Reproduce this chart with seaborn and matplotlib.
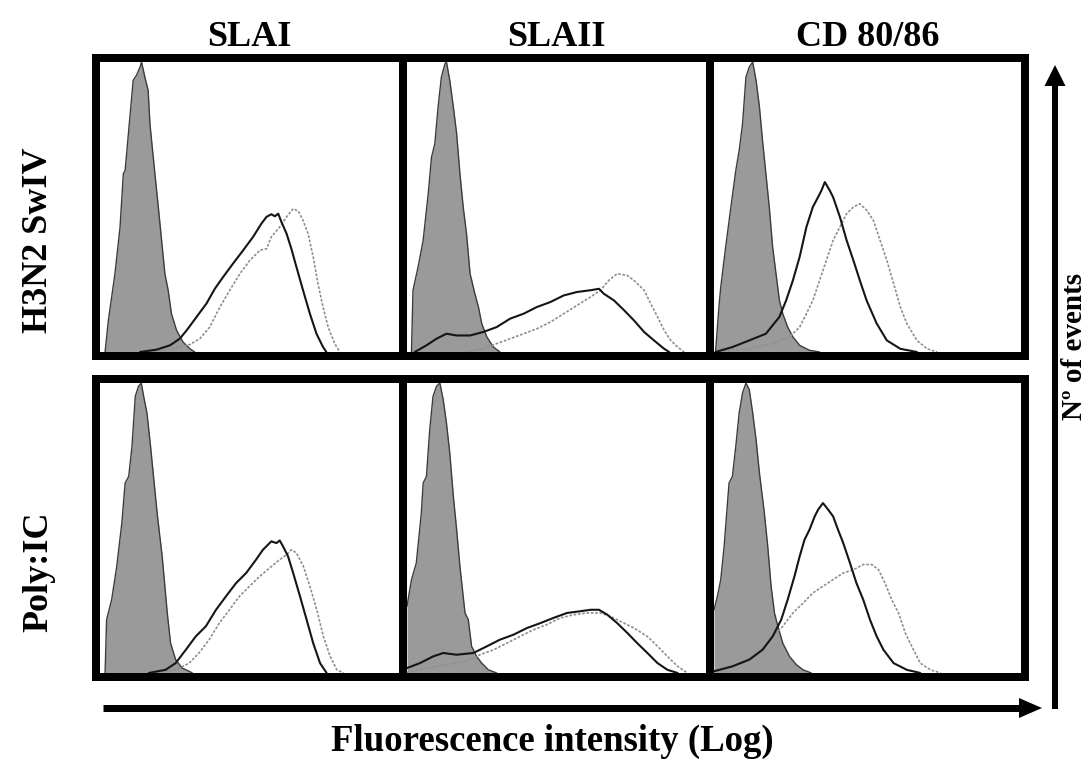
import matplotlib
matplotlib.use("Agg")
import matplotlib.pyplot as plt
import seaborn as sns
from matplotlib.patches import Polygon

# ---------------- data (x: % of log-fluorescence range, y: % of max events) -------------
COLUMNS = ["SLAI", "SLAII", "CD 80/86"]
ROWS = ["H3N2 SwIV", "Poly:IC"]

# Row 1: H3N2 SwIV
SLAI_SW_ISO_X = [1.7, 2.8, 5.0, 6.7, 7.8, 8.4, 9.5, 11.1, 12.2, 13.4, 13.9, 15.0, 16.1, 16.7, 17.8, 19.5, 20.6, 21.7, 22.8, 23.9, 25.6, 27.8, 30.1, 31.7]
SLAI_SW_ISO_Y = [0, 10.9, 27.0, 43.0, 61.5, 62.6, 75.3, 93.7, 95.4, 98.3, 100, 94.8, 90.2, 78.7, 67.2, 50.0, 38.5, 27.0, 21.3, 13.2, 7.5, 3.4, 1.1, 0]
SLAI_SW_A_X = [13.4, 18.9, 23.4, 26.7, 29.0, 32.3, 35.6, 38.4, 41.2, 44.5, 47.9, 51.2, 54.0, 55.7, 57.3, 58.5, 59.6, 60.7, 62.4, 64.0, 65.7, 67.9, 70.2, 72.4, 74.6, 75.7]
SLAI_SW_A_Y = [0, 0.8, 2.3, 4.6, 7.5, 12.1, 16.7, 21.8, 25.9, 30.5, 35.1, 39.7, 44.3, 46.6, 47.5, 46.8, 47.7, 44.8, 40.8, 35.6, 29.3, 21.3, 13.2, 6.3, 1.7, 0]
SLAI_SW_B_X = [16.7, 24.5, 30.1, 33.4, 36.7, 40.1, 43.4, 46.8, 50.1, 53.5, 55.7, 57.3, 60.1, 62.4, 64.6, 66.3, 67.9, 69.6, 71.3, 72.9, 74.6, 76.3, 78.5, 80.2]
SLAI_SW_B_Y = [0, 1.1, 2.6, 4.6, 8.6, 15.5, 21.3, 27.0, 31.6, 35.1, 35.6, 39.7, 43.1, 46.6, 49.4, 48.6, 45.4, 40.8, 32.8, 23.6, 15.5, 8.6, 2.9, 0]

SLAII_SW_ISO_X = [1.5, 2.0, 3.7, 5.4, 7.1, 8.2, 9.3, 10.4, 11.5, 12.7, 13.2, 14.3, 15.5, 16.6, 17.7, 18.8, 19.9, 21.1, 22.7, 23.9, 25.0, 26.7, 28.9, 31.1]
SLAII_SW_ISO_Y = [0, 21.3, 29.3, 38.5, 54.6, 67.2, 71.8, 84.5, 94.8, 99.4, 100, 93.7, 84.5, 75.3, 61.5, 50.0, 40.8, 27.0, 20.1, 15.5, 9.8, 5.2, 1.7, 0]
SLAII_SW_A_X = [2.6, 6.5, 9.9, 13.2, 16.6, 21.1, 25.5, 30.0, 34.5, 39.0, 43.4, 47.9, 52.4, 56.9, 61.4, 64.2, 65.8, 69.2, 72.6, 75.9, 79.3, 82.6, 86.0, 87.7]
SLAII_SW_A_Y = [0, 2.3, 4.6, 6.3, 5.7, 5.7, 6.9, 8.6, 11.5, 13.2, 15.5, 17.2, 19.5, 20.7, 21.3, 21.8, 20.1, 17.8, 14.4, 10.9, 6.9, 4.0, 1.1, 0]
SLAII_SW_B_X = [19.9, 25.5, 30.0, 34.5, 39.0, 43.4, 47.9, 52.4, 56.9, 61.4, 64.7, 67.5, 70.3, 73.7, 75.9, 79.3, 81.5, 83.8, 86.0, 88.2, 90.5, 92.7]
SLAII_SW_B_Y = [0, 1.1, 2.9, 4.6, 6.3, 8.0, 10.3, 13.2, 16.1, 19.0, 21.3, 24.7, 27.0, 26.4, 24.7, 21.3, 16.7, 12.1, 7.5, 4.0, 1.7, 0]

CD_SW_ISO_X = [0.5, 1.6, 2.2, 3.8, 5.5, 7.1, 8.2, 9.3, 10.4, 11.5, 12.6, 13.7, 14.8, 15.8, 16.9, 18.0, 19.1, 20.2, 21.3, 22.4, 24.0, 25.7, 27.9, 31.1, 34.4]
CD_SW_ISO_Y = [0, 15.5, 22.4, 36.2, 50.0, 62.6, 69.5, 78.7, 94.8, 98.3, 100, 93.7, 84.5, 73.0, 61.5, 50.0, 36.2, 27.0, 17.8, 13.2, 8.6, 5.2, 2.3, 0.6, 0]
CD_SW_A_X = [0.5, 6.0, 11.5, 16.9, 21.3, 23.5, 25.7, 27.9, 30.1, 32.2, 33.9, 35.0, 36.1, 37.7, 38.8, 41.0, 43.2, 45.4, 47.5, 49.7, 53.0, 56.3, 60.7, 66.1]
CD_SW_A_Y = [0, 1.7, 4.0, 6.3, 12.1, 17.8, 24.7, 32.8, 43.1, 50.0, 53.4, 55.7, 58.6, 55.7, 53.4, 46.6, 38.5, 31.6, 24.7, 17.8, 9.8, 4.0, 1.1, 0]
CD_SW_B_X = [1.6, 11.5, 19.1, 24.6, 27.9, 30.1, 32.2, 34.4, 36.6, 38.8, 41.0, 43.2, 45.4, 47.5, 49.7, 51.9, 54.1, 56.3, 58.5, 60.7, 62.8, 66.1, 69.4, 72.7]
CD_SW_B_Y = [0, 1.1, 2.9, 5.2, 8.6, 13.2, 17.8, 24.7, 31.6, 38.5, 43.1, 47.7, 50.0, 51.1, 48.9, 45.4, 38.5, 31.6, 23.6, 15.5, 9.8, 4.0, 1.1, 0]

# Row 2: Poly:IC
SLAI_PIC_ISO_X = [1.7, 2.2, 3.9, 5.6, 7.3, 8.4, 9.6, 10.7, 11.8, 12.9, 13.8, 14.6, 15.7, 16.9, 18.0, 19.1, 20.8, 22.5, 23.6, 25.3, 27.5, 29.8, 30.9]
SLAI_PIC_ISO_Y = [0, 18.4, 25.3, 36.8, 51.7, 65.5, 67.8, 78.2, 95.4, 98.9, 100, 95.4, 89.7, 78.2, 66.7, 55.2, 40.2, 20.7, 10.3, 4.6, 1.7, 0.6, 0]
SLAI_PIC_A_X = [16.3, 21.9, 25.3, 28.7, 32.0, 35.4, 38.8, 42.1, 45.5, 48.9, 52.2, 54.5, 57.3, 59.0, 60.1, 61.2, 62.9, 64.6, 66.9, 69.1, 71.3, 73.6, 75.8]
SLAI_PIC_A_Y = [0, 1.1, 3.4, 8.0, 12.6, 16.1, 21.8, 26.4, 31.0, 34.5, 39.1, 42.5, 45.4, 44.8, 45.7, 43.7, 40.2, 34.5, 26.4, 18.4, 10.3, 3.4, 0]
SLAI_PIC_B_X = [17.4, 25.3, 29.8, 33.1, 36.5, 39.9, 43.3, 46.6, 50.0, 53.4, 56.7, 60.1, 62.4, 64.0, 65.7, 68.0, 70.2, 72.5, 74.7, 77.0, 79.2, 81.5]
SLAI_PIC_B_Y = [0, 1.1, 3.4, 6.9, 11.5, 17.2, 21.8, 26.4, 29.9, 33.3, 36.2, 39.1, 40.8, 42.5, 41.4, 36.8, 29.9, 21.8, 12.6, 5.7, 1.1, 0]

SLAII_PIC_ISO_X = [0, 1.5, 3.1, 4.8, 5.4, 6.5, 7.6, 8.7, 9.9, 11.0, 12.1, 13.2, 14.3, 15.5, 16.6, 17.7, 19.4, 20.5, 21.6, 23.3, 25.0, 27.2, 30.0]
SLAII_PIC_ISO_Y = [23.0, 32.2, 37.9, 55.2, 65.5, 67.8, 83.9, 95.4, 98.9, 100, 94.3, 86.2, 75.9, 60.9, 49.4, 36.8, 20.7, 18.4, 9.2, 5.7, 3.4, 1.1, 0]
SLAII_PIC_A_X = [0, 4.3, 8.7, 12.1, 16.6, 22.2, 26.7, 31.1, 35.6, 40.1, 44.6, 49.0, 53.5, 58.0, 61.4, 64.2, 67.0, 70.3, 73.7, 77.0, 80.4, 83.8, 87.1, 90.5]
SLAII_PIC_A_Y = [1.7, 3.4, 5.7, 6.9, 6.3, 6.9, 9.2, 11.5, 13.2, 15.5, 17.2, 19.0, 20.7, 21.3, 21.8, 21.8, 20.1, 17.2, 13.8, 10.3, 6.9, 3.4, 1.1, 0]
SLAII_PIC_B_X = [0, 6.5, 13.2, 19.9, 24.4, 28.9, 33.4, 37.8, 42.3, 46.8, 51.3, 55.8, 60.2, 64.7, 68.1, 71.4, 75.9, 80.4, 83.8, 87.1, 90.5, 93.8]
SLAII_PIC_B_Y = [0.2, 1.7, 2.9, 4.0, 6.3, 8.0, 10.3, 12.6, 14.9, 16.7, 19.0, 20.1, 20.7, 20.7, 19.5, 17.8, 15.5, 12.6, 9.2, 5.7, 2.3, 0]

CD_PIC_ISO_X = [0, 1.1, 2.2, 3.3, 4.9, 6.0, 7.1, 8.2, 9.3, 10.4, 11.5, 12.6, 13.7, 14.8, 16.4, 17.5, 18.6, 19.7, 20.8, 22.4, 24.6, 26.8, 29.0, 31.7]
CD_PIC_ISO_Y = [21.8, 26.4, 32.2, 43.7, 65.5, 67.8, 78.2, 89.7, 96.6, 100, 97.7, 89.7, 80.5, 69.0, 55.2, 43.7, 29.9, 20.7, 16.1, 10.3, 5.7, 2.9, 1.1, 0]
CD_PIC_A_X = [0, 6.0, 11.5, 15.8, 19.1, 21.9, 24.0, 26.2, 27.9, 29.5, 31.1, 32.8, 33.9, 35.5, 37.2, 38.8, 40.4, 42.1, 44.3, 46.4, 48.6, 50.8, 53.0, 55.2, 58.5, 62.8, 67.2]
CD_PIC_A_Y = [0.6, 2.3, 4.6, 8.0, 12.6, 18.4, 25.3, 33.3, 40.2, 46.0, 49.4, 54.0, 56.3, 58.6, 56.3, 54.0, 49.4, 44.8, 37.9, 31.0, 25.3, 18.4, 12.6, 8.0, 3.4, 1.1, 0]
CD_PIC_B_X = [0, 6.0, 11.5, 15.8, 19.1, 22.4, 25.7, 29.0, 32.2, 35.5, 38.8, 42.1, 45.4, 48.6, 51.4, 53.6, 55.7, 57.9, 60.1, 62.3, 65.0, 67.2, 70.5, 73.8]
CD_PIC_B_Y = [0.6, 2.3, 5.2, 8.0, 12.6, 16.1, 20.7, 24.1, 27.6, 29.9, 32.2, 34.5, 35.6, 37.4, 37.4, 35.6, 31.0, 25.3, 20.7, 13.8, 8.0, 3.4, 1.1, 0]

# ---------------- figure ----------------
sns.set_theme(style="white")
plt.rcParams['font.family'] = ['Liberation Serif', 'DejaVu Serif']

W, H = 1089, 762
fig = plt.figure(figsize=(W / 100, H / 100), dpi=100)
fig.patch.set_facecolor("white")

col_edges = [96, 403, 710, 1025]
row_edges = [(58, 356), (379, 677)]

panels = [
    [(SLAI_SW_ISO_X, SLAI_SW_ISO_Y, SLAI_SW_A_X, SLAI_SW_A_Y, SLAI_SW_B_X, SLAI_SW_B_Y),
     (SLAII_SW_ISO_X, SLAII_SW_ISO_Y, SLAII_SW_A_X, SLAII_SW_A_Y, SLAII_SW_B_X, SLAII_SW_B_Y),
     (CD_SW_ISO_X, CD_SW_ISO_Y, CD_SW_A_X, CD_SW_A_Y, CD_SW_B_X, CD_SW_B_Y)],
    [(SLAI_PIC_ISO_X, SLAI_PIC_ISO_Y, SLAI_PIC_A_X, SLAI_PIC_A_Y, SLAI_PIC_B_X, SLAI_PIC_B_Y),
     (SLAII_PIC_ISO_X, SLAII_PIC_ISO_Y, SLAII_PIC_A_X, SLAII_PIC_A_Y, SLAII_PIC_B_X, SLAII_PIC_B_Y),
     (CD_PIC_ISO_X, CD_PIC_ISO_Y, CD_PIC_A_X, CD_PIC_A_Y, CD_PIC_B_X, CD_PIC_B_Y)],
]

spine_w = 8 * 72 / 100
for r, (top, bot) in enumerate(row_edges):
    for c in range(3):
        left, right = col_edges[c], col_edges[c + 1]
        ax = fig.add_axes([left / W, 1 - bot / H, (right - left) / W, (bot - top) / H])
        ix, iy, ax_x, ax_y, bx, by = panels[r][c]
        ax.fill_between(ix, iy, 0, color="#9a9a9a", lw=0, zorder=1)
        sns.lineplot(x=ix, y=iy, ax=ax, color="#3c3c3c", lw=1.0, estimator=None, sort=False, zorder=2)
        sns.lineplot(x=bx, y=by, ax=ax, color="#8e8e8e", lw=1.2, estimator=None, sort=False,
                     linestyle=(0, (1.6, 1.0)), zorder=3)
        sns.lineplot(x=ax_x, y=ax_y, ax=ax, color="#151515", lw=1.5, estimator=None, sort=False, zorder=4)
        pad_x = 4 / (right - left - 8) * 100
        pad_y = 4 / (bot - top - 8) * 100
        ax.set_xlim(-pad_x, 100 + pad_x)
        ax.set_ylim(-pad_y, 100 + pad_y)
        ax.set_xticks([])
        ax.set_yticks([])
        ax.set_xlabel("")
        ax.set_ylabel("")
        ax.set_facecolor("white")
        for s in ax.spines.values():
            s.set_visible(True)
            s.set_color("black")
            s.set_linewidth(spine_w)
            s.set_zorder(10)

# ---------------- overlay: titles, labels, arrows ----------------
ov = fig.add_axes([0, 0, 1, 1], zorder=20)
ov.set_xlim(0, W)
ov.set_ylim(H, 0)
ov.axis("off")
ov.patch.set_alpha(0)

fs = 26
for c, name in enumerate(COLUMNS):
    xc = (col_edges[c] + col_edges[c + 1]) / 2
    ov.text(xc, 46, name, ha="center", va="baseline", fontsize=fs, fontweight="bold", color="black")

row_centers = [240, 572]
for r, name in enumerate(ROWS):
    ov.text(47, row_centers[r], name, rotation=90, rotation_mode="anchor",
            ha="center", va="baseline", fontsize=fs, fontweight="bold", color="black")

ov.text(552, 751, "Fluorescence intensity (Log)", ha="center", va="baseline",
        fontsize=26.5, fontweight="bold", color="black")
ov.text(1082, 346, "Nº of events", rotation=90, rotation_mode="anchor",
        ha="center", va="baseline", fontsize=21, fontweight="bold", color="black")

# x arrow
ov.plot([103, 1022], [708, 708], color="black", lw=7 * 0.72, solid_capstyle="butt")
ov.add_patch(Polygon([[1019, 698], [1042, 708], [1019, 718]], closed=True, color="black", lw=0))
# y arrow
ov.plot([1055, 1055], [709, 84], color="black", lw=6 * 0.72, solid_capstyle="butt")
ov.add_patch(Polygon([[1044.5, 86], [1055, 65], [1065.5, 86]], closed=True, color="black", lw=0))

fig.savefig("out.png", dpi=100, facecolor="white")
